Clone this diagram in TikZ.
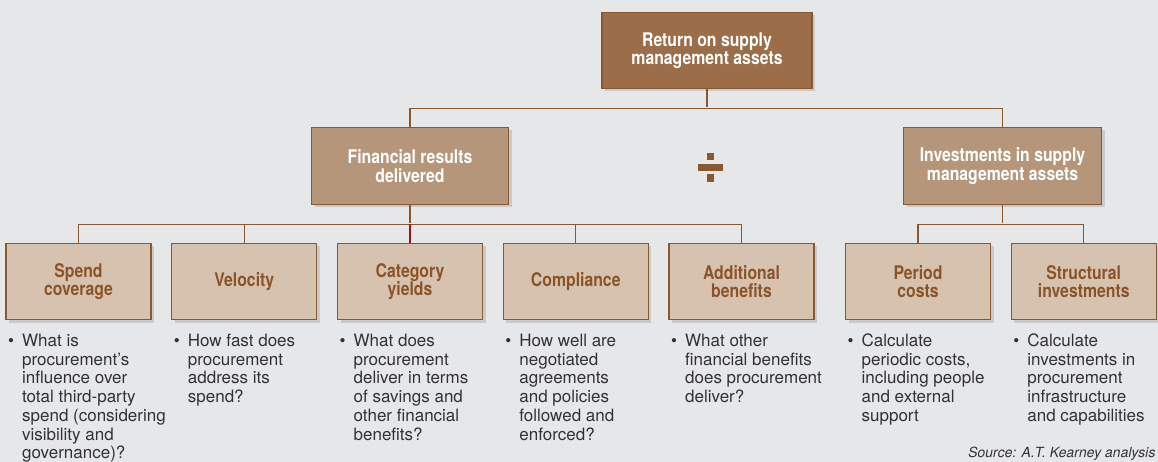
\documentclass[tikz,border=0pt]{standalone}
\usepackage{fontspec}
\setmainfont{TeX Gyre Heros}
\newfontfamily\narrowfont{TeX Gyre Heros}[FakeStretch=0.84]
\newfontfamily\sourcefont{TeX Gyre Heros}[FakeSlant=0.2]
\usepackage{xcolor}
\usepackage{tikz}
\usetikzlibrary{positioning,shadows}

\definecolor{paper}{RGB}{230,231,232}
\definecolor{edge}{RGB}{138,88,48}
\definecolor{topfill}{RGB}{155,110,73}
\definecolor{midfill}{RGB}{181,150,123}
\definecolor{leaffill}{RGB}{215,194,176}
\definecolor{leaftext}{RGB}{138,84,40}
\definecolor{asktext}{RGB}{50,50,52}
\definecolor{redline}{RGB}{150,22,22}

\begin{document}
\begin{tikzpicture}[x=1pt, y=-1pt, node distance=20.75pt]
            \tikzstyle{box} = [draw=edge, line width=1.3pt, inner sep=0pt, outer sep=0pt, align=center, font=\narrowfont\bfseries\fontsize{18.8}{18.3}\selectfont, drop shadow={shadow xshift=3pt, shadow yshift=-3pt, opacity=0.12, fill=black}];
            \tikzstyle{topbox} = [box, fill=topfill, text=white, minimum width=210pt, minimum height=76pt];
            \tikzstyle{midbox} = [box, fill=midfill, text=white, minimum width=197pt, minimum height=77pt];
            \tikzstyle{leafbox} = [box, fill=leaffill, text=leaftext, minimum width=145pt, minimum height=76pt];
            \tikzstyle{ask} = [anchor=base west, inner sep=0pt, text=asktext, font=\fontsize{17}{18.7}\selectfont, xshift=2pt, yshift=-27pt];
            \tikzstyle{link} = [draw=edge, line width=1.2pt];

            \path [use as bounding box, fill=paper] (0,0) rectangle (1158,462);

            \node [topbox] (ret) at (707,50.5) {Return on supply\\management assets};

            \node [midbox] (fin) at (410,166) {Financial results\\delivered};
            \node [midbox, minimum width=198pt] (inv) at (1002.5,166) {Investments in supply\\management assets};

            \node [leafbox] (spend) at (78.5,281.5) {Spend\\coverage};
            \node [leafbox, right = of spend] (velo) {Velocity};
            \node [leafbox, right = of velo] (cat) {Category\\yields};
            \node [leafbox, right = of cat] (comp) {Compliance};
            \node [leafbox, right = of comp] (add) {Additional\\benefits};
            \node [leafbox, right = 31.5pt of add] (period) {Period\\costs};
            \node [leafbox, right = of period] (struct) {Structural\\investments};

            % division sign
            \fill[edge] (698,164.3) rectangle (722.7,170.7);
            \fill[edge] (707,153.3) rectangle (714,160);
            \fill[edge] (707,174) rectangle (714,181.7);

            \draw [link] (ret.south) -- ++(0,19);
            \draw [link] (fin.north) -- ++(0,-19) -| (inv.north);
            \draw [link] (fin.south) -- ++(0,19);
            \draw [link] (spend.north) -- ++(0,-19) -| (add.north);
            \draw [link] (velo.north) -- ++(0,-19);
            \draw [link, draw=redline] (cat.north) -- ++(0,-19);
            \draw [link] (comp.north) -- ++(0,-19);
            \draw [link] (inv.south) -- ++(0,19);
            \draw [link] (period.north) -- ++(0,-19) -| (struct.north);

            \node [ask] (q-spend) at (spend.south west) {\textbullet\hspace{8pt}\begin{tabular}[t]{@{}l@{}}What is\\procurement's\\influence over\\total third-party\\spend (considering\\visibility and\\governance)?\end{tabular}};
            \node [ask] (q-velo) at (velo.south west) {\textbullet\hspace{8pt}\begin{tabular}[t]{@{}l@{}}How fast does\\procurement\\address its\\spend?\end{tabular}};
            \node [ask] (q-cat) at (cat.south west) {\textbullet\hspace{8pt}\begin{tabular}[t]{@{}l@{}}What does\\procurement\\deliver in terms\\of savings and\\other financial\\benefits?\end{tabular}};
            \node [ask] (q-comp) at (comp.south west) {\textbullet\hspace{8pt}\begin{tabular}[t]{@{}l@{}}How well are\\negotiated\\agreements\\and policies\\followed and\\enforced?\end{tabular}};
            \node [ask] (q-add) at (add.south west) {\textbullet\hspace{8pt}\begin{tabular}[t]{@{}l@{}}What other\\financial benefits\\does procurement\\deliver?\end{tabular}};
            \node [ask] (q-period) at (period.south west) {\textbullet\hspace{8pt}\begin{tabular}[t]{@{}l@{}}Calculate\\periodic costs,\\including people\\and external\\support\end{tabular}};
            \node [ask] (q-struct) at (struct.south west) {\textbullet\hspace{8pt}\begin{tabular}[t]{@{}l@{}}Calculate\\investments in\\procurement\\infrastructure\\and capabilities\end{tabular}};

            \node [anchor=base east, inner sep=0pt, text=asktext, font=\sourcefont\fontsize{14}{16}\selectfont] (source) at (1155,457) {Source: A.T. Kearney analysis};
\end{tikzpicture}
\end{document}
